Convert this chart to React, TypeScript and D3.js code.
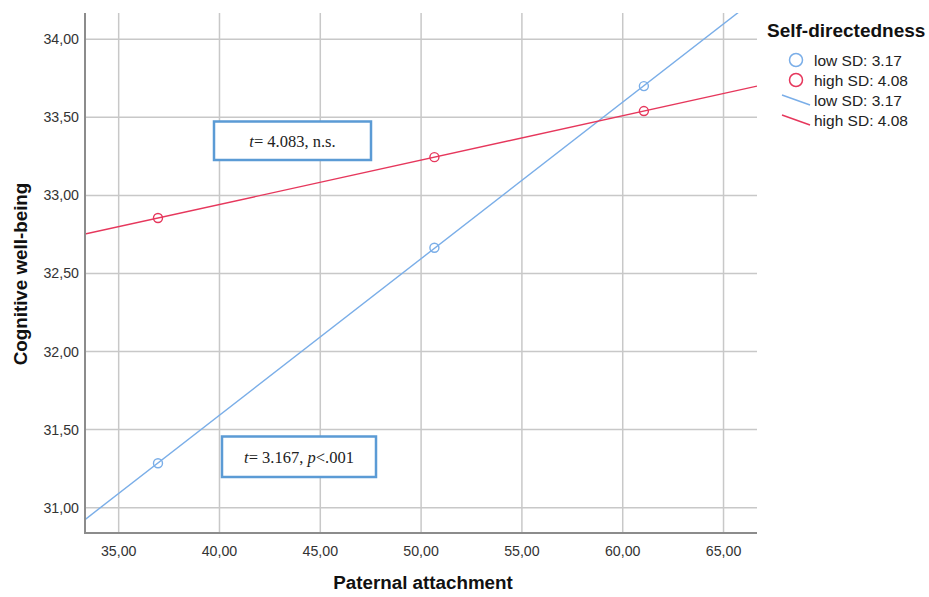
import React from "react";
import * as d3 from "d3";

const xTicks = [35, 40, 45, 50, 55, 60, 65];
const yTicks = [31.0, 31.5, 32.0, 32.5, 33.0, 33.5, 34.0];
const groups = ["low SD: 3.17", "high SD: 4.08"];
const pointX = [36.95, 50.66, 61.05];
const lowY = [31.285, 32.665, 33.70];
const highY = [32.855, 33.245, 33.54];
const colors = ["#7aaee8", "#e6375c"];

const W = 929, H = 597;
const M = { left: 85, top: 13, right: 757, bottom: 533 };

function fit(xs: number[], ys: number[]) {
  const mx = d3.mean(xs)!, my = d3.mean(ys)!;
  let num = 0, den = 0;
  xs.forEach((x, i) => { num += (x - mx) * (ys[i] - my); den += (x - mx) ** 2; });
  const b = num / den;
  return { a: my - b * mx, b };
}

const fmt = (v: number) => v.toFixed(2).replace(".", ",");

export default function App() {
  const x = d3.scaleLinear().domain([33.33, 66.66]).range([M.left, M.right]);
  const y = d3.scaleLinear().domain([30.838, 34.168]).range([M.bottom, M.top]);
  const series = [lowY, highY];
  const font = "Arial, 'Liberation Sans', sans-serif";
  const serif = "'Liberation Serif', 'Times New Roman', serif";
  const line = d3.line<[number, number]>().x(d => x(d[0])).y(d => y(d[1]));
  const [xd0, xd1] = x.domain();

  return (
    <svg width={W} height={H} style={{ position: "absolute", left: 0, top: 0, background: "#fff" }}>
      <defs>
        <clipPath id="plot">
          <rect x={M.left} y={M.top} width={M.right - M.left} height={M.bottom - M.top} />
        </clipPath>
      </defs>
      {xTicks.map(t => (
        <line key={"gx" + t} x1={x(t)} x2={x(t)} y1={M.top} y2={M.bottom} stroke="#c8c8c8" strokeWidth={1.5} />
      ))}
      {yTicks.map(t => (
        <line key={"gy" + t} x1={M.left} x2={M.right} y1={y(t)} y2={y(t)} stroke="#c8c8c8" strokeWidth={1.5} />
      ))}
      <rect x={214} y={121.5} width={157} height={38.5} fill="#fff" stroke="#5b9bd5" strokeWidth={2.5} />
      <text x={292.5} y={146.5} textAnchor="middle" fontFamily={serif} fontSize={16.5} fill="#222">
        <tspan fontStyle="italic">t</tspan>= 4.083, n.s.
      </text>
      <rect x={222} y={436.5} width={154} height={40.5} fill="#fff" stroke="#5b9bd5" strokeWidth={2.5} />
      <text x={299} y={462.5} textAnchor="middle" fontFamily={serif} fontSize={16.5} fill="#222">
        <tspan fontStyle="italic">t</tspan>= 3.167, <tspan fontStyle="italic">p</tspan>&lt;.001
      </text>
      <g clipPath="url(#plot)">
        {series.map((ys, i) => {
          const f = fit(pointX, ys);
          const pts: [number, number][] = [[xd0, f.a + f.b * xd0], [xd1, f.a + f.b * xd1]];
          return <path key={"l" + i} d={line(pts)!} fill="none" stroke={colors[i]} strokeWidth={1.4} />;
        })}
      </g>
      {series.map((ys, i) =>
        ys.map((v, j) => (
          <circle key={"p" + i + j} cx={x(pointX[j])} cy={y(v)} r={4.5} fill="none" stroke={colors[i]} strokeWidth={1.4} />
        ))
      )}
      <line x1={M.left} x2={M.left} y1={M.top} y2={M.bottom + 1} stroke="#8c8c8c" strokeWidth={2} />
      <line x1={M.left - 1} x2={M.right} y1={M.bottom} y2={M.bottom} stroke="#8c8c8c" strokeWidth={2} />
      {yTicks.map(t => (
        <text key={"ty" + t} x={79} y={y(t) + 5} textAnchor="end" fontFamily={font} fontSize={14.2} fill="#333">{fmt(t)}</text>
      ))}
      {xTicks.map(t => (
        <text key={"tx" + t} x={x(t)} y={556} textAnchor="middle" fontFamily={font} fontSize={14.2} fill="#333">{fmt(t)}</text>
      ))}
      <text x={423} y={589} textAnchor="middle" fontFamily={font} fontSize={18.8} fontWeight="bold" fill="#111">Paternal attachment</text>
      <text transform={`translate(27,${(M.top + M.bottom) / 2 + 1}) rotate(-90)`} textAnchor="middle" fontFamily={font} fontSize={18.8} fontWeight="bold" fill="#111">Cognitive well-being</text>
      <text x={767} y={37} fontFamily={font} fontSize={19} fontWeight="bold" fill="#111">Self-directedness</text>
      {groups.map((g, i) => (
        <g key={"lc" + i}>
          <circle cx={796} cy={60 + i * 20} r={6.5} fill="none" stroke={colors[i]} strokeWidth={1.5} />
          <text x={814} y={66 + i * 20} fontFamily={font} fontSize={15.5} fill="#222">{g}</text>
        </g>
      ))}
      {groups.map((g, i) => (
        <g key={"ll" + i}>
          <line x1={782} x2={810} y1={95 + i * 20} y2={105 + i * 20} stroke={colors[i]} strokeWidth={1.4} />
          <text x={814} y={106 + i * 20} fontFamily={font} fontSize={15.5} fill="#222">{g}</text>
        </g>
      ))}
    </svg>
  );
}
